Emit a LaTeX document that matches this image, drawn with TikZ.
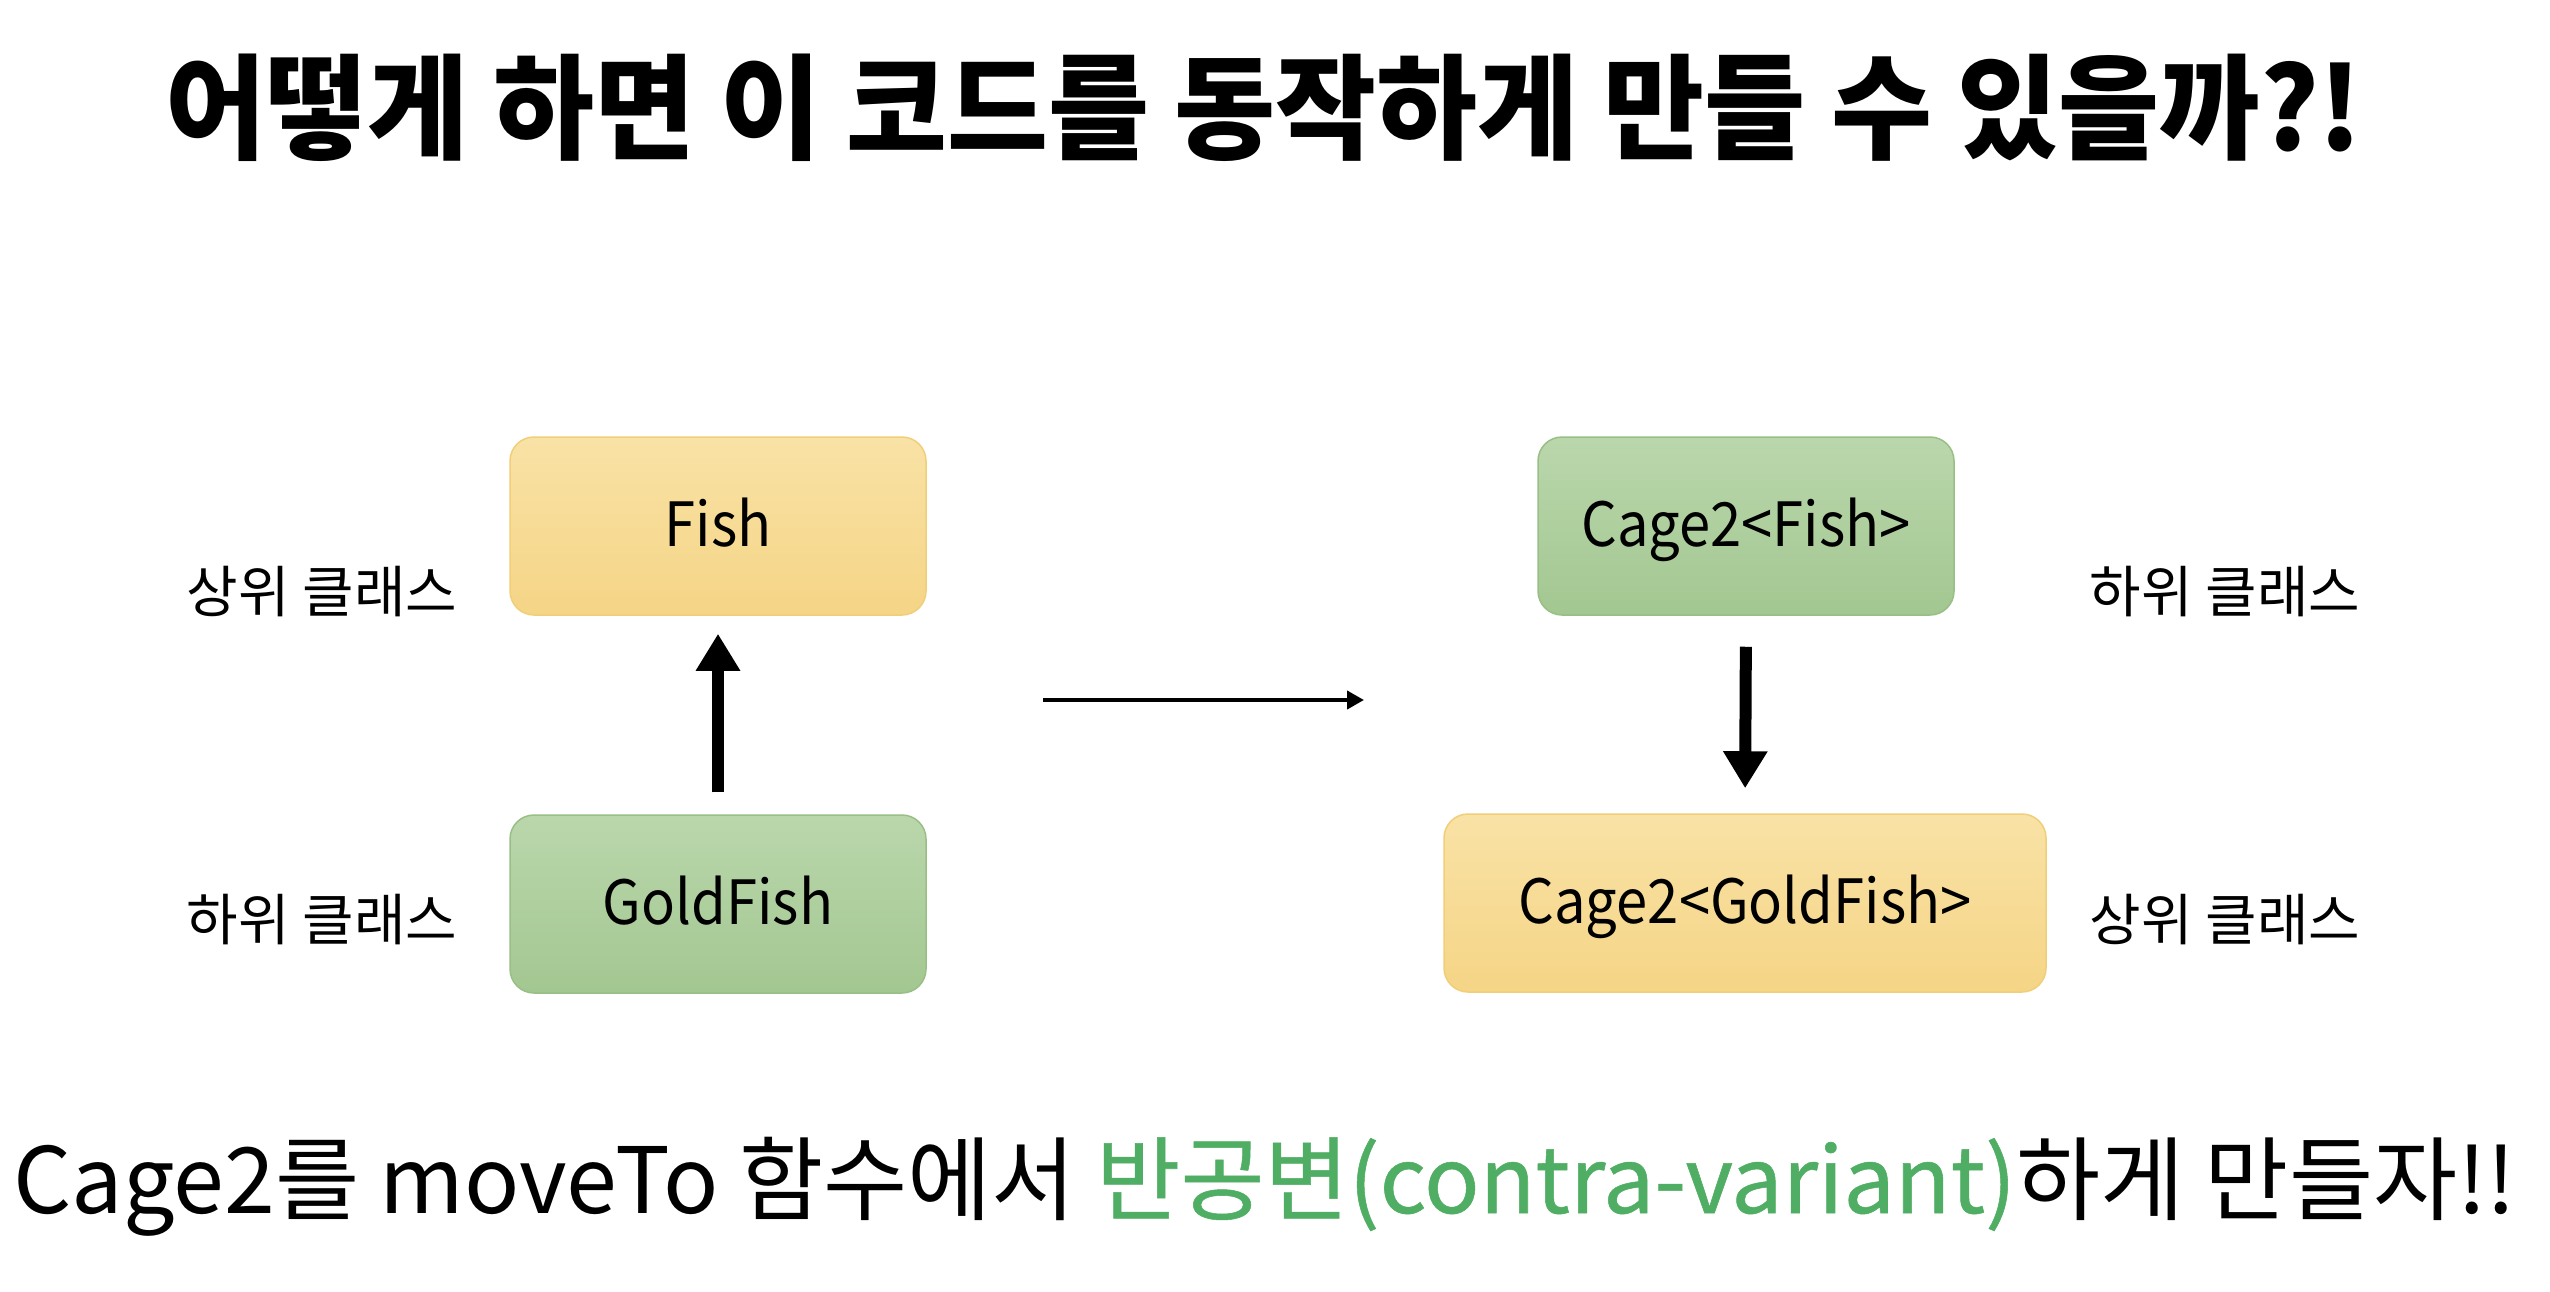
\documentclass[tikz,border=0pt]{standalone}
\usepackage{fontspec}
\usepackage{graphicx}
\setmainfont{Noto Sans CJK KR}
\newfontfamily\medfont{Noto Sans CJK KR}[FakeBold=0.6]
\usetikzlibrary{arrows.meta}
\definecolor{ytop}{HTML}{F9E2A6}
\definecolor{ybot}{HTML}{F5D586}
\definecolor{yline}{HTML}{F0CF78}
\definecolor{gtop}{HTML}{BAD7AC}
\definecolor{gbot}{HTML}{A3C791}
\definecolor{gline}{HTML}{98BF86}
\definecolor{accent}{HTML}{4FAE63}
\newcommand{\narrowtext}[1]{\scalebox{0.92}[1]{#1}}
\tikzset{
  box/.style={rounded corners=24pt, line width=1.5pt, minimum height=178pt, inner sep=0pt},
  ybox/.style={box, draw=yline, top color=ytop, bottom color=ybot},
  gbox/.style={box, draw=gline, top color=gtop, bottom color=gbot},
  boxtext/.style={font=\fontsize{61}{70}\selectfont, anchor=base, inner sep=0pt},
  side/.style={font=\fontsize{56}{62}\selectfont, inner sep=0pt},
  bigarrow/.style={line width=12pt, -{Triangle[length=37pt,width=42pt]}},
  thinarrow/.style={line width=4pt, -{Triangle[length=17pt,width=18pt]}},
}
\begin{document}
\begin{tikzpicture}[x=1pt,y=-1pt]
\useasboundingbox (0,0) rectangle (2550,1292);
\fill[white] (0,0) rectangle (2550,1292);

% title
\node[inner sep=0pt] (title) at (1264,108) {\scalebox{0.98}[1.02]{\fontsize{112}{120}\selectfont\bfseries 어떻게 하면 이 코드를 동작하게 만들 수 있을까?!}};

% boxes
\node[ybox, minimum width=416pt] (fish) at (718,526) {};
\node[gbox, minimum width=416pt] (gold) at (718,904) {};
\node[gbox, minimum width=416pt] (cfish) at (1746,526) {};
\node[ybox, minimum width=602pt] (cgold) at (1745,903) {};

\node[boxtext] (tfish) at (718,546) {\narrowtext{Fish}};
\node[boxtext] (tgold) at (718,924) {\narrowtext{GoldFish}};
\node[boxtext] (tcfish) at (1746,546) {\narrowtext{Cage2<Fish>}};
\node[boxtext] (tcgold) at (1745,923) {\narrowtext{Cage2<GoldFish>}};

% side labels
\node[side] (l1) at (322,592) {상위 클래스};
\node[side] (l2) at (322,920) {하위 클래스};
\node[side] (r1) at (2225,592) {하위 클래스};
\node[side] (r2) at (2225,920) {상위 클래스};

% arrows
\draw[bigarrow, shorten <=22pt, shorten >=18pt] (gold.north) -- (fish.south);
\draw[bigarrow, shorten <=31pt, shorten >=25pt] (cfish.south) -- (cgold.north);
\coordinate (ha) at (1043,700);
\coordinate (hb) at (1364,700);
\draw[thinarrow] (ha) -- (hb);

% bottom line
\node[anchor=base, inner sep=0pt] (bottom) at (1265,1213) {\fontsize{91.5}{100}\selectfont Cage2를 moveTo 함수에서 \textcolor{accent}{\medfont 반공변(contra-variant)}하게 만들자!!};
\end{tikzpicture}
\end{document}
